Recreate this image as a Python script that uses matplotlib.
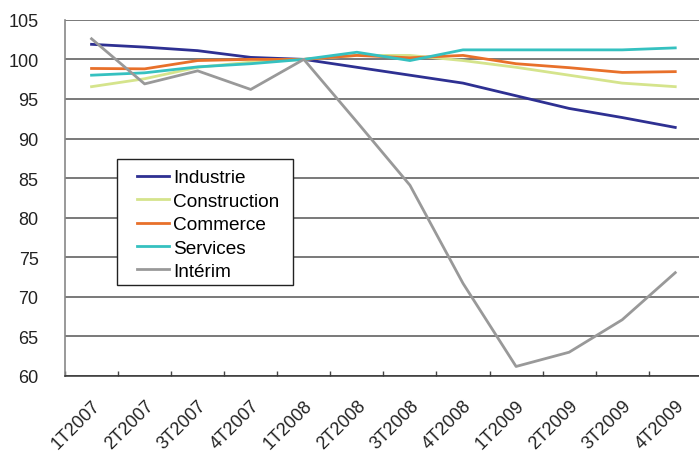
import numpy as np
from matplotlib import pyplot as plt
from matplotlib.patches import Rectangle
from matplotlib.ticker import FixedLocator

plt.rcParams['font.family'] = ['Liberation Sans', 'DejaVu Sans']

quarters = ["1T2007", "2T2007", "3T2007", "4T2007",
            "1T2008", "2T2008", "3T2008", "4T2008",
            "1T2009", "2T2009", "3T2009", "4T2009"]

industrie = [101.9, 101.55, 101.1, 100.25, 100.0, 99.0, 98.0, 97.0, 95.4, 93.8, 92.65, 91.4]
construction = [96.55, 97.55, 99.0, 99.65, 100.0, 100.5, 100.5, 99.85, 99.0, 98.0, 97.0, 96.55]
commerce = [98.85, 98.8, 99.85, 100.0, 100.0, 100.5, 100.2, 100.5, 99.45, 98.95, 98.35, 98.45]
services = [98.0, 98.3, 99.05, 99.45, 100.0, 100.9, 99.85, 101.2, 101.2, 101.2, 101.2, 101.45]
interim = [102.6, 96.9, 98.55, 96.2, 100.0, 92.1, 84.1, 71.7, 61.2, 63.0, 67.1, 73.05]

series = [
    ("Industrie", industrie, "#2e3092"),
    ("Construction", construction, "#d5e48c"),
    ("Commerce", commerce, "#e8702a"),
    ("Services", services, "#35c1c0"),
    ("Intérim", interim, "#999999"),
]

fig = plt.figure(figsize=(6.99, 4.52), dpi=100)
ax = fig.add_axes([0.093, 0.166, 0.911, 0.788])

x = np.arange(len(quarters))
for name, vals, col in series:
    ax.plot(x, vals, color=col, lw=2.0, label=name, zorder=3)

ax.set_xlim(-0.5, len(quarters) - 0.5)
ax.set_ylim(60, 105)
ax.set_yticks(np.arange(60, 106, 5))
ax.yaxis.grid(True, color="#555555", lw=1.1, zorder=0)
ax.tick_params(axis="y", length=0, pad=19, labelsize=13, labelcolor="#222222")

ax.set_xticks(x)
ax.set_xticklabels(quarters, rotation=45, ha="right", rotation_mode="anchor")
ax.tick_params(axis="x", which="major", length=0, pad=15, labelsize=13, labelcolor="#222222")
ax.xaxis.set_minor_locator(FixedLocator(np.arange(-0.5, len(quarters), 1)))
ax.tick_params(axis="x", which="minor", direction="in", length=3.5, width=1, color="#444444")

for s in ["top", "right"]:
    ax.spines[s].set_visible(False)
ax.spines["left"].set_color("#888888")
ax.spines["left"].set_linewidth(1.2)
ax.spines["bottom"].set_color("#333333")
ax.spines["bottom"].set_linewidth(1.1)

# legend frame drawn by hand so the padding matches
ax.add_patch(Rectangle((0.167, 0.367), 0.2527, 0.2788, transform=fig.transFigure,
                       facecolor="white", edgecolor="#222222", lw=1.0, zorder=4, clip_on=False))
leg = ax.legend(loc="upper left", bbox_to_anchor=(0.196, 0.6235), bbox_transform=fig.transFigure,
                fontsize=13.7, frameon=False,
                handlelength=1.7, handletextpad=0.2, labelspacing=0.32, borderpad=0,
                borderaxespad=0)
leg.set_zorder(5)

fig.savefig("out.png", dpi=100)
